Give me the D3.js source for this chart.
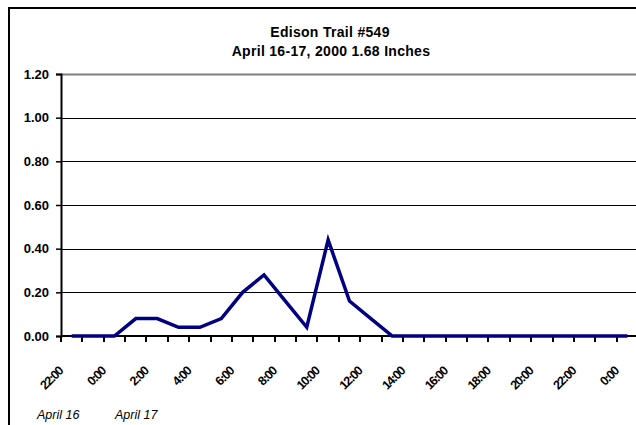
<!DOCTYPE html>
<html>
<head>
<meta charset="utf-8">
<script src="https://cdn.jsdelivr.net/npm/d3@7"></script>
<style>
  body { margin: 0; background: #fff; }
  svg { display: block; font-family: "Liberation Sans", Arial, sans-serif; }
</style>
</head>
<body>
<svg id="chart" width="636" height="425"></svg>
<script>
// hourly rainfall, 22:00 Apr 16 through 0:00 Apr 18
var hours = ["22:00","23:00","0:00","1:00","2:00","3:00","4:00","5:00","6:00","7:00","8:00","9:00","10:00","11:00",
             "12:00","13:00","14:00","15:00","16:00","17:00","18:00","19:00","20:00","21:00","22:00","23:00","0:00"];
var rain = [0, 0, 0, 0.08, 0.08, 0.04, 0.04, 0.08, 0.20, 0.28, 0.16, 0.04, 0.44, 0.16,
            0.08, 0, 0, 0, 0, 0, 0, 0, 0, 0, 0, 0, 0];
var yTicks = [0, 0.2, 0.4, 0.6, 0.8, 1.0, 1.2];
var dayLabels = ["April 16", "April 17"];

var svg = d3.select("#chart");
var pLeft = 61, pRight = 638, pTop = 74, pBottom = 336;

// chart border (right/bottom fall outside the window)
svg.append("rect")
    .attr("x", 9).attr("y", 8)
    .attr("width", 700).attr("height", 500)
    .attr("fill", "none").attr("stroke", "#000").attr("stroke-width", 2);

var x = d3.scaleBand().domain(d3.range(hours.length)).range([pLeft, pRight]);
var y = d3.scaleLinear().domain([0, 1.2]).range([pBottom, pTop]);

// gridlines
svg.append("g").selectAll("line")
    .data(yTicks.filter(d => d > 0))
    .enter().append("line")
    .attr("x1", pLeft).attr("x2", pRight)
    .attr("y1", d => Math.round(y(d)) + 0.5).attr("y2", d => Math.round(y(d)) + 0.5)
    .attr("stroke", d => d === 1.2 ? "#808080" : "#000")
    .attr("stroke-width", d => d === 1.2 ? 2 : 1);

// y axis
var yAxis = svg.append("g")
    .attr("transform", "translate(" + pLeft + ",0)")
    .call(d3.axisLeft(y).tickValues(yTicks).tickFormat(d3.format(".2f")).tickSize(5).tickPadding(7));
yAxis.select(".domain").attr("stroke-width", 2);
yAxis.selectAll(".tick line").attr("stroke-width", 1.5);
yAxis.selectAll("text").attr("font-size", 13).attr("font-weight", "bold").attr("fill", "#000")
    .attr("font-family", "Liberation Sans, Arial, sans-serif");

// x axis: ticks at category boundaries
var bounds = d3.range(hours.length + 1).map(i => pLeft + i * x.step());
var xg = svg.append("g");
xg.append("line")
    .attr("x1", pLeft).attr("x2", pRight).attr("y1", pBottom).attr("y2", pBottom)
    .attr("stroke", "#000").attr("stroke-width", 2);
xg.selectAll(".tk").data(bounds).enter().append("line")
    .attr("class", "tk")
    .attr("x1", d => Math.round(d)).attr("x2", d => Math.round(d))
    .attr("y1", pBottom).attr("y2", pBottom + 6)
    .attr("stroke", "#000").attr("stroke-width", 2);

// rotated hour labels, every second hour
xg.selectAll(".lbl").data(d3.range(0, hours.length, 2)).enter().append("text")
    .attr("class", "lbl")
    .attr("transform", i => "translate(" + (x(i) + x.bandwidth() / 2 - 8) + "," + (pBottom + 36) + ") rotate(-45)")
    .attr("text-anchor", "end")
    .attr("font-size", 12.5).attr("font-weight", "bold")
    .attr("letter-spacing", -1.2)
    .text(i => hours[i]);

// rainfall line
var line = d3.line()
    .x((d, i) => x(i) + x.bandwidth() / 2)
    .y(d => y(d));
svg.append("path")
    .datum(rain)
    .attr("d", line)
    .attr("fill", "none")
    .attr("stroke", "#000080")
    .attr("stroke-width", 3.5)
    .attr("stroke-linejoin", "miter");

// titles
svg.append("text").attr("x", 330).attr("y", 37)
    .attr("text-anchor", "middle").attr("font-size", 14).attr("font-weight", "bold")
    .attr("letter-spacing", 0.3)
    .text("Edison Trail #549");
svg.append("text").attr("x", 331).attr("y", 56)
    .attr("text-anchor", "middle").attr("font-size", 14).attr("font-weight", "bold")
    .attr("letter-spacing", 0.3)
    .text("April 16-17, 2000 1.68 Inches");

// day labels
svg.selectAll(".day").data(dayLabels).enter().append("text")
    .attr("class", "day")
    .attr("x", (d, i) => [37, 115][i]).attr("y", 419)
    .attr("font-size", 12.5).attr("font-style", "italic")
    .text(d => d);
</script>
</body>
</html>
